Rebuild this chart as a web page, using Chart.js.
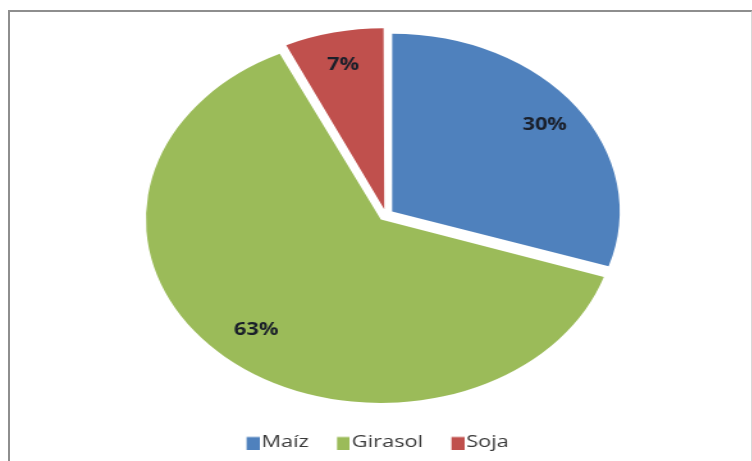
<!DOCTYPE html>
<html>
<head>
<meta charset="utf-8">
<script src="https://cdn.jsdelivr.net/npm/chart.js@4.4.1/dist/chart.umd.min.js"></script>
<style>
    html, body { margin: 0; padding: 0; background: #fff; }
    #wrap { position: relative; width: 752px; height: 461px; overflow: hidden; }
    #frame {
        position: absolute; left: 8px; top: 10px; width: 745px; height: 470px;
        box-sizing: border-box; border: 2px solid #8e8e8e; border-right-color: #d8d8d8;
    }
    /* the chart is drawn narrow and widened, which gives the oval pie */
    #cropChart { position: absolute; left: 0; top: 0; transform: scaleX(1.28); transform-origin: 0 0; }
</style>
</head>
<body>
<div id="wrap">
    <div id="frame"></div>
    <canvas id="cropChart" width="588" height="461"></canvas>
</div>
<script>
const categories = ['Maíz', 'Girasol', 'Soja'];
const shares = [30, 63, 7];
const sliceColors = ['#4f81bd', '#9bbb59', '#c0504d'];

// legend swatch: a small square pushed to the right edge of the image,
// so it sits close to its label text
function swatch(color) {
    const c = document.createElement('canvas');
    c.width = 20;
    c.height = 14;
    const g = c.getContext('2d');
    g.fillStyle = color;
    g.fillRect(10, 1.5, 10, 12.5);
    return c;
}

// percentage labels placed inside each slice, near its outer edge
const sliceLabels = {
    id: 'sliceLabels',
    afterDatasetsDraw(chart) {
        const { ctx } = chart;
        const meta = chart.getDatasetMeta(0);
        ctx.save();
        ctx.font = 'bold 17px "Open Sans"';
        ctx.fillStyle = '#1a1f2a';
        ctx.textAlign = 'center';
        ctx.textBaseline = 'middle';
        meta.data.forEach((arc, i) => {
            const p = arc.getProps(['x', 'y', 'startAngle', 'endAngle', 'outerRadius'], true);
            const mid = (p.startAngle + p.endAngle) / 2;
            const r = (arc.options.offset || 0) / 4 + p.outerRadius * 0.83;
            ctx.fillText(shares[i] + '%', p.x + Math.cos(mid) * r, p.y + Math.sin(mid) * r);
        });
        ctx.restore();
    }
};

// the legend row sits a little left of the pie's centre line
const legendNudge = {
    id: 'legendNudge',
    afterLayout(chart) {
        chart.legend.left -= 8;
        chart.legend.right -= 8;
    }
};

new Chart(document.getElementById('cropChart'), {
    type: 'pie',
    data: {
        labels: categories,
        datasets: [{
            data: shares,
            backgroundColor: sliceColors,
            borderWidth: 0,
            offset: 24
        }]
    },
    options: {
        responsive: false,
        animation: false,
        events: [],
        radius: 177.5,
        layout: { padding: { left: 15, top: 15, right: 0, bottom: 0 } },
        plugins: {
            tooltip: { enabled: false },
            legend: {
                position: 'bottom',
                labels: {
                    usePointStyle: true,
                    boxWidth: 6.2,
                    padding: 19,
                    color: '#3a3a3a',
                    font: { family: 'Open Sans', size: 17 },
                    generateLabels: (chart) => categories.map((name, i) => ({
                        text: name,
                        fillStyle: sliceColors[i],
                        strokeStyle: sliceColors[i],
                        fontColor: '#3a3a3a',
                        lineWidth: 0,
                        pointStyle: swatch(sliceColors[i]),
                        hidden: false,
                        index: i
                    }))
                }
            }
        }
    },
    plugins: [sliceLabels, legendNudge]
});
</script>
</body>
</html>
